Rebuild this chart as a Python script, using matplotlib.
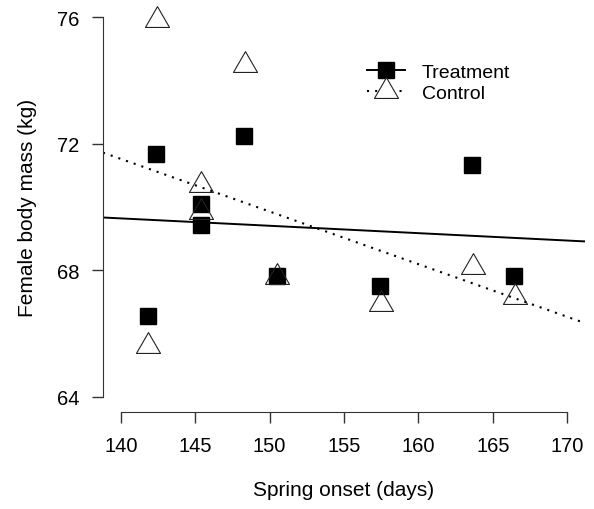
import numpy as np
import matplotlib
matplotlib.use("Agg")
import matplotlib.pyplot as plt

plt.rcParams['font.family'] = ['Liberation Sans', 'DejaVu Sans']

# treatment (filled squares)
treat_x = [142.35, 145.4, 145.4, 148.3, 141.85, 150.5, 157.45, 163.6, 166.45]
treat_y = [71.68, 70.08, 69.44, 72.26, 66.54, 67.81, 67.49, 71.33, 67.81]

# control (open triangles)
ctrl_x = [142.4, 148.35, 145.4, 145.4, 141.85, 150.5, 157.5, 163.65, 166.5]
ctrl_y = [75.9, 74.48, 70.68, 69.85, 65.6, 67.8, 66.92, 68.1, 67.15]

# fitted lines, values at x = 140 and x = 170
line_x = [140, 170]
treat_fit = [69.64, 68.94]
ctrl_fit = [71.52, 66.53]

xticks = [140, 145, 150, 155, 160, 165, 170]
yticks = [64, 68, 72, 76]

# R-style triangle centred on its centroid
tri = [(0, 1), (-0.866, -0.5), (0.866, -0.5), (0, 1)]

fig = plt.figure(figsize=(5.94, 5.10), dpi=100)
ax = fig.add_axes([103 / 594, (510 - 413) / 510, 482 / 594, 410 / 510])

ax.axline((line_x[0], treat_fit[0]), (line_x[1], treat_fit[1]),
          color='black', lw=1.4, zorder=1)
ax.axline((line_x[0], ctrl_fit[0]), (line_x[1], ctrl_fit[1]),
          color='black', lw=1.5, linestyle=(0, (1, 2.9)), zorder=1)

ax.plot(treat_x, treat_y, linestyle='none', marker='s', ms=11,
        mfc='black', mec='black', zorder=3)
ax.plot(ctrl_x, ctrl_y, linestyle='none', marker=tri, ms=20,
        mfc='none', mec='#222222', mew=0.8, zorder=4)

# legend proxies
h1, = ax.plot([], [], color='black', lw=1.4, marker='s', ms=11,
              mfc='black', mec='black')
h2, = ax.plot([], [], color='black', lw=1.5, linestyle=(0, (1, 2.9)),
              marker=tri, ms=20, mfc='white', mec='#222222', mew=0.8)
ax.legend([h1, h2], ['Treatment', 'Control'], loc='upper left',
          bbox_to_anchor=(0.548, 0.85), frameon=False, fontsize=14,
          handlelength=1.95, handletextpad=0.85, borderpad=0,
          labelspacing=0.15, borderaxespad=0)

ax.set_xlim(138.8, 171.2)
ax.set_ylim(63.52, 76.48)
ax.set_xticks(xticks)
ax.set_yticks(yticks)
ax.tick_params(labelsize=14.5, length=8, width=1, pad=9, color='#333333')

for s in ['top', 'right']:
    ax.spines[s].set_visible(False)
ax.spines['bottom'].set_bounds(140, 170)
ax.spines['left'].set_bounds(64, 76)
ax.spines['bottom'].set_color('#333333')
ax.spines['left'].set_color('#333333')

ax.set_xlabel('Spring onset (days)', fontsize=15, labelpad=18)
ax.set_ylabel('Female body mass (kg)', fontsize=15, labelpad=14)

fig.savefig('out.png', dpi=100)
